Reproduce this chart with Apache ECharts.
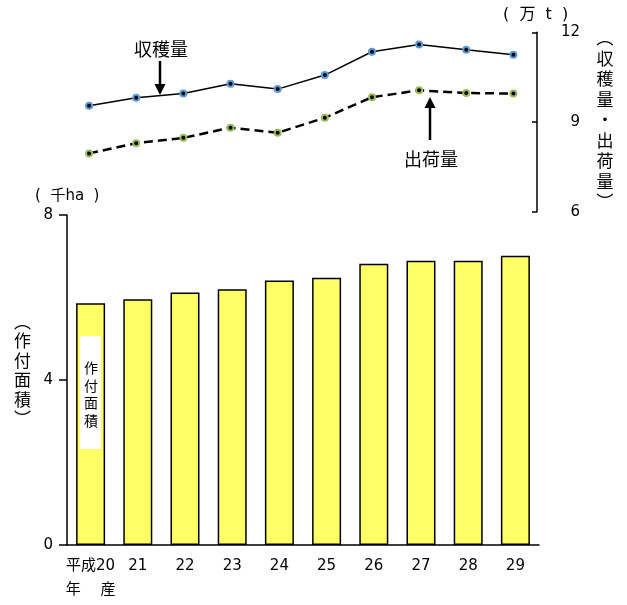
<!DOCTYPE html>
<html>
<head>
<meta charset="utf-8">
<script src="https://cdn.jsdelivr.net/npm/echarts@6/dist/echarts.min.js"></script>
<style>
html,body{margin:0;padding:0;background:#fff;}
#chart{width:627px;height:605px;}
</style>
</head>
<body>
<div id="chart"></div>
<script>
// ---- data ----
const categories = ['平成20', '21', '22', '23', '24', '25', '26', '27', '28', '29'];
const firstLabel = '平成20\n年\u3000 産';
const area = [5.86, 5.96, 6.12, 6.20, 6.41, 6.48, 6.82, 6.89, 6.89, 7.01];      // 作付面積 (千ha)
const harvest = [9.54, 9.81, 9.95, 10.28, 10.10, 10.57, 11.35, 11.59, 11.42, 11.25]; // 収穫量 (万t)
const shipment = [7.95, 8.29, 8.47, 8.81, 8.64, 9.14, 9.83, 10.06, 9.97, 9.95];     // 出荷量 (万t)
const areaAxis = { min: 0, max: 8, interval: 4 };
const tonAxis = { min: 6, max: 12, interval: 3 };

const FONT = "'DejaVu Sans', 'Noto Sans CJK JP', sans-serif";
const CJK = "'Noto Sans CJK JP', sans-serif";

const chart = echarts.init(document.getElementById('chart'), null, { renderer: 'canvas' });

chart.setOption({
  animation: false,
  backgroundColor: '#ffffff',
  textStyle: { fontFamily: FONT, color: '#000' },
  grid: [
    { left: 65.5, top: 32.3, width: 471.5, height: 179.4, containLabel: false },
    { left: 67, top: 215, width: 472, height: 330, containLabel: false }
  ],
  xAxis: [
    { gridIndex: 0, type: 'category', data: categories, boundaryGap: true, show: false },
    {
      gridIndex: 1, type: 'category', data: categories, boundaryGap: true,
      axisLine: { show: true, lineStyle: { color: '#000', width: 1.5 } },
      axisTick: { show: false },
      axisLabel: {
        interval: 0, margin: 9, fontSize: 15, color: '#000', fontFamily: FONT, lineHeight: 24,
        formatter: (v, i) => (i === 0 ? firstLabel : v)
      }
    }
  ],
  yAxis: [
    {
      gridIndex: 0, type: 'value', position: 'right',
      min: tonAxis.min, max: tonAxis.max, interval: tonAxis.interval,
      axisLine: { show: true, lineStyle: { color: '#000', width: 1.5 } },
      axisTick: { show: true, inside: true, length: 5, lineStyle: { color: '#000', width: 1.5 } },
      splitLine: { show: false },
      axisLabel: { margin: 43, align: 'right', fontSize: 15, color: '#000', fontFamily: FONT }
    },
    {
      gridIndex: 1, type: 'value', position: 'left',
      min: areaAxis.min, max: areaAxis.max, interval: areaAxis.interval,
      axisLine: { show: true, lineStyle: { color: '#000', width: 1.5 } },
      axisTick: { show: true, inside: false, length: 8, lineStyle: { color: '#000', width: 1.5 } },
      splitLine: { show: false },
      axisLabel: { margin: 14, fontSize: 15, color: '#000', fontFamily: FONT }
    }
  ],
  series: [
    {
      name: '作付面積', type: 'bar', xAxisIndex: 1, yAxisIndex: 1, data: area,
      barWidth: 29,
      itemStyle: { color: '#ffff66', borderColor: '#000', borderWidth: 1.5 },
      z: 2
    },
    {
      name: '収穫量', type: 'line', xAxisIndex: 0, yAxisIndex: 0, data: harvest,
      symbol: 'circle', symbolSize: 6,
      lineStyle: { color: '#000', width: 1.5 },
      itemStyle: { color: '#000', borderColor: '#5b9bd5', borderWidth: 2 },
      z: 3
    },
    {
      name: '出荷量', type: 'line', xAxisIndex: 0, yAxisIndex: 0, data: shipment,
      symbol: 'circle', symbolSize: 6,
      lineStyle: { color: '#000', width: 2.5, type: [9, 5] },
      itemStyle: { color: '#000', borderColor: '#9bbb59', borderWidth: 2 },
      z: 3
    }
  ],
  graphic: [
    // unit labels
    { type: 'text', left: 503, top: 7, z: 10,
      style: { text: '(  万  t  )', font: "16px " + FONT, fill: '#000' } },
    { type: 'text', left: 35, top: 189, z: 10,
      style: { text: '(  千ha  )', font: "15px " + FONT, fill: '#000' } },
    // vertical axis titles
    { type: 'text', x: 22.5, y: 370, z: 10,
      style: { text: '︵\n作\n付\n面\n積\n︶', font: "17px " + CJK, lineHeight: 19.5,
               fill: '#000', align: 'center', verticalAlign: 'middle' } },
    { type: 'text', x: 605, y: 120, z: 10,
      style: { text: '︵\n収\n穫\n量\n・\n出\n荷\n量\n︶', font: "17px " + CJK, lineHeight: 20.5,
               fill: '#000', align: 'center', verticalAlign: 'middle' } },
    // inner legend box in first bar
    { type: 'rect', z: 10, shape: { x: 80, y: 336, width: 21, height: 113 },
      style: { fill: '#ffffff' } },
    { type: 'text', x: 91, y: 394, z: 11,
      style: { text: '作\n付\n面\n積', font: "14px " + CJK, lineHeight: 17.5,
               fill: '#000', align: 'center', verticalAlign: 'middle' } },
    // series annotations
    { type: 'text', x: 161, y: 49, z: 10,
      style: { text: '収穫量', font: "18px " + CJK, fill: '#000', align: 'center', verticalAlign: 'middle' } },
    { type: 'text', x: 431, y: 159, z: 10,
      style: { text: '出荷量', font: "18px " + CJK, fill: '#000', align: 'center', verticalAlign: 'middle' } },
    // arrows
    { type: 'line', z: 10, shape: { x1: 160, y1: 61, x2: 160, y2: 86 },
      style: { stroke: '#000', lineWidth: 2.5 } },
    { type: 'polygon', z: 10, shape: { points: [[154.5, 84], [165.5, 84], [160, 95]] },
      style: { fill: '#000' } },
    { type: 'line', z: 10, shape: { x1: 430, y1: 140, x2: 430, y2: 106 },
      style: { stroke: '#000', lineWidth: 2.5 } },
    { type: 'polygon', z: 10, shape: { points: [[424.5, 108], [435.5, 108], [430, 97]] },
      style: { fill: '#000' } }
  ]
});
</script>
</body>
</html>
